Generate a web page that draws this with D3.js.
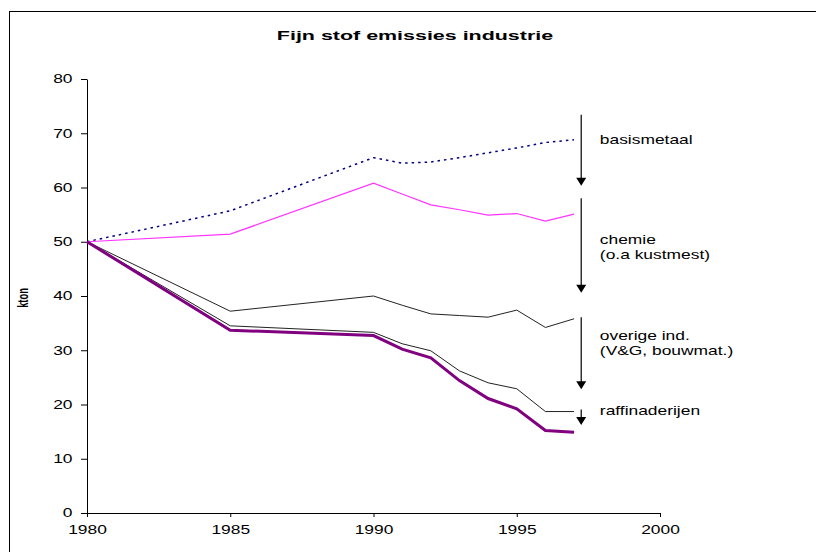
<!DOCTYPE html>
<html>
<head>
<meta charset="utf-8">
<script src="https://cdn.jsdelivr.net/npm/d3@7"></script>
<style>
  body { margin: 0; background: #fff; }
  text { font-family: "Liberation Sans", Arial, sans-serif; fill: #000; }
</style>
</head>
<body>
<div id="chart"></div>
<script>
// data (kton)
var years = [1980, 1985, 1990, 1991, 1992, 1993, 1994, 1995, 1996, 1997];
var basismetaal = [50, 55.7, 65.5, 64.5, 64.7, 65.5, 66.4, 67.3, 68.3, 68.8];
var chemie = [50, 51.4, 60.8, 58.8, 56.8, 55.9, 54.9, 55.2, 53.8, 55.1];
var overige = [50, 37.2, 40.0, 38.3, 36.7, 36.4, 36.1, 37.4, 34.2, 35.8];
var raffinaderijen = [50, 34.5, 33.3, 31.2, 29.9, 26.2, 24.0, 22.9, 18.7, 18.7];
var rest = [50, 33.7, 32.7, 30.2, 28.6, 24.4, 21.1, 19.2, 15.2, 14.9];

var yTicks = [0, 10, 20, 30, 40, 50, 60, 70, 80];
var xTicks = [1980, 1985, 1990, 1995, 2000];

// arrows: [from, to] in kton, at a year just after 1997
var arrowYear = 1997.25;
var arrows = [[73.4, 60.3], [58.0, 40.6], [36.1, 22.8], [19.1, 16.2]];

var labelYear = 1997.9;
var labels = [
    ["basismetaal", 68.6],
    ["chemie", 50.1],
    ["(o.a kustmest)", 47.4],
    ["overige ind.", 32.4],
    ["(V&G, bouwmat.)", 29.7],
    ["raffinaderijen", 18.6]
];

var width = 816, height = 552;
var sx = 1.45; // text in the original is stretched sideways

var svg = d3.select("#chart").append("svg")
    .attr("width", width)
    .attr("height", height);

// frame
svg.append("rect")
    .attr("x", 9.5).attr("y", 11.5)
    .attr("width", 830).attr("height", 560)
    .attr("fill", "none").attr("stroke", "#000").attr("stroke-width", 1);

var x = d3.scaleLinear().domain([1980, 2000]).range([87, 660]);
var y = d3.scaleLinear().domain([0, 80]).range([513, 79]);

function stretchedText(px, py, str, size, bold, anchor, scale) {
    var g = svg.append("g").attr("transform", "translate(" + px + "," + py + ")");
    return g.append("text")
        .attr("transform", "scale(" + (scale || sx) + ",1)")
        .attr("text-anchor", anchor || "start")
        .attr("dominant-baseline", "middle")
        .style("font-size", size + "px")
        .style("font-weight", bold ? "bold" : "normal")
        .text(str);
}

// title
stretchedText(415, 37, "Fijn stof emissies industrie", 13, true, "middle", 1.65);

// y label
svg.append("g")
    .attr("transform", "translate(24,298) rotate(-90)")
    .append("text")
    .attr("text-anchor", "middle")
    .attr("dominant-baseline", "middle")
    .attr("transform", "scale(0.85,1.4)")
    .style("font-size", "11px")
    .style("font-weight", "bold")
    .text("kton");

// axes
var yAxis = d3.axisLeft(y).tickValues(yTicks).tickSize(6).tickSizeOuter(0);
var xAxis = d3.axisBottom(x).tickValues(xTicks).tickSize(4).tickSizeOuter(0).tickFormat(d3.format("d"));

var gy = svg.append("g").attr("transform", "translate(" + x(1980) + ",0)").call(yAxis);
var gx = svg.append("g").attr("transform", "translate(0," + y(0) + ")").call(xAxis);

[gx, gy].forEach(function (g) {
    g.select(".domain").attr("stroke", "#000");
    g.selectAll(".tick line").attr("stroke", "#000");
    g.selectAll("text")
        .style("font-size", "12px")
        .style("font-family", "'Liberation Sans', Arial, sans-serif");
});
gy.selectAll("text").attr("x", -10).attr("transform", "scale(" + sx + ",1)");
gx.selectAll("text").attr("y", 12).attr("transform", "scale(" + sx + ",1)");

// lines
var line = d3.line()
    .x(function (d) { return x(d[0]); })
    .y(function (d) { return y(d[1]); });

function series(vals) {
    return years.map(function (yr, i) { return [yr, vals[i]]; });
}

svg.append("path").datum(series(basismetaal))
    .attr("d", line).attr("fill", "none")
    .attr("stroke", "#000080").attr("stroke-width", 1.5)
    .attr("stroke-dasharray", "2.5,4");

svg.append("path").datum(series(chemie))
    .attr("d", line).attr("fill", "none")
    .attr("stroke", "#ff33ff").attr("stroke-width", 1.2);

svg.append("path").datum(series(overige))
    .attr("d", line).attr("fill", "none")
    .attr("stroke", "#222").attr("stroke-width", 1);

svg.append("path").datum(series(raffinaderijen))
    .attr("d", line).attr("fill", "none")
    .attr("stroke", "#222").attr("stroke-width", 1);

svg.append("path").datum(series(rest))
    .attr("d", line).attr("fill", "none")
    .attr("stroke", "#800080").attr("stroke-width", 3);

// arrows
var ax = x(arrowYear);
arrows.forEach(function (a) {
    var y0 = y(a[0]), y1 = y(a[1]);
    svg.append("line")
        .attr("x1", ax).attr("x2", ax)
        .attr("y1", y0).attr("y2", y1 - 6)
        .attr("stroke", "#000").attr("stroke-width", 1.2);
    svg.append("path")
        .attr("d", "M" + (ax - 5) + "," + (y1 - 8) + "L" + (ax + 5) + "," + (y1 - 8) + "L" + ax + "," + y1 + "Z")
        .attr("fill", "#000");
});

// labels
labels.forEach(function (l) {
    stretchedText(x(labelYear), y(l[1]), l[0], 12, false, "start");
});
</script>
</body>
</html>
